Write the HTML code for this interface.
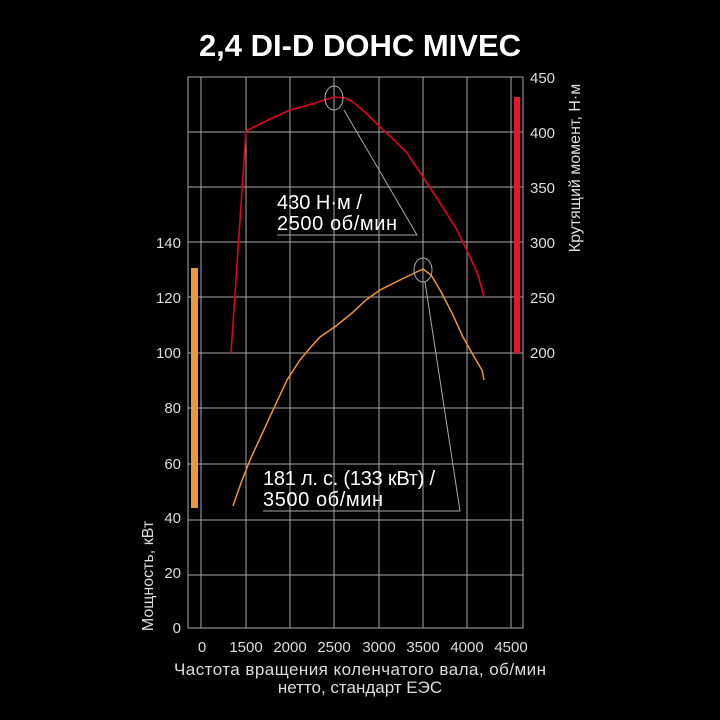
<!DOCTYPE html>
<html><head><meta charset="utf-8"><style>
body{margin:0;background:#000;width:720px;height:720px;overflow:hidden}
svg{display:block;font-family:"Liberation Sans","Noto Sans CJK SC",sans-serif}
</style></head><body>
<svg width="720" height="720" viewBox="0 0 720 720">
<rect width="720" height="720" fill="#000"/>
<text x="360" y="56" text-anchor="middle" fill="#fff" font-size="31" font-weight="bold">2,4 DI-D DOHC MIVEC</text>
<g stroke="#a8a8a8" stroke-width="1" fill="none">
<rect x="188" y="77" width="335" height="551"/>
<path d="M201 77V628M246 77V628M290 77V628M334 77V628M379 77V628M423 77V628M467 77V628M511 77V628"/>
<path d="M188 132H523M188 187H523M188 242H523M188 297H523M188 353H523M188 408H523M188 464H523M188 520H523M188 575H523"/>
</g>
<rect x="191" y="268" width="7" height="240" fill="#f0963a"/>
<rect x="514" y="97" width="6" height="256" fill="#e3182b"/>
<polyline fill="none" stroke="#e3001b" stroke-width="1.6" points="231,353 246,131 268,120 290,110 312,104 334,97 345,98 353,102 366,113 380,127 395,141 407,153 423,177 440,203 457,230 470,257 478,275 484,297"/>
<polyline fill="none" stroke="#f39232" stroke-width="1.5" points="233,506 241,483 250,460 262,434 273,410 287,380 300,360 310,348 320,337 336,326 352,313 366,300 380,290 402,279 423,269 431,275 440,290 452,313 463,337 473,355 482,370 484,380"/>
<g stroke="#aaa" stroke-width="1" fill="none">
<ellipse cx="334" cy="98" rx="9" ry="12"/>
<ellipse cx="423" cy="270" rx="9" ry="12"/>
<path d="M344 110L417 235H277"/>
<path d="M425 282L460 511H263"/>
</g>
<g fill="#fff" font-size="20">
<text x="277" y="209">430 Н·м /</text>
<text x="277" y="230" textLength="120">2500 об/мин</text>
<text x="263" y="485" textLength="172">181 л. с. (133 кВт) /</text>
<text x="263" y="506" textLength="120">3500 об/мин</text>
</g>
<g fill="#ddd" font-size="15" text-anchor="end">
<text x="181" y="633">0</text><text x="181" y="578">20</text><text x="181" y="523">40</text><text x="181" y="469">60</text><text x="181" y="413">80</text><text x="181" y="358">100</text><text x="181" y="303">120</text><text x="181" y="248">140</text>
</g>
<g fill="#ddd" font-size="15" text-anchor="start">
<text x="530" y="358">200</text><text x="530" y="303">250</text><text x="530" y="248">300</text><text x="530" y="193">350</text><text x="530" y="138">400</text><text x="530" y="83">450</text>
</g>
<g fill="#ddd" font-size="15" text-anchor="middle">
<text x="202" y="652">0</text><text x="246" y="652">1500</text><text x="290" y="652">2000</text><text x="334" y="652">2500</text><text x="379" y="652">3000</text><text x="423" y="652">3500</text><text x="467" y="652">4000</text><text x="511" y="652">4500</text>
<text x="360" y="675" font-size="17" textLength="372">Частота вращения коленчатого вала, об/мин</text>
<text x="360" y="693" font-size="17">нетто, стандарт ЕЭС</text>
<text transform="translate(153,576) rotate(-90)" font-size="16">Мощность, кВт</text>
<text transform="translate(580,168) rotate(-90)" font-size="16">Крутящий момент, Н·м</text>
</g>
</svg>
</body></html>
